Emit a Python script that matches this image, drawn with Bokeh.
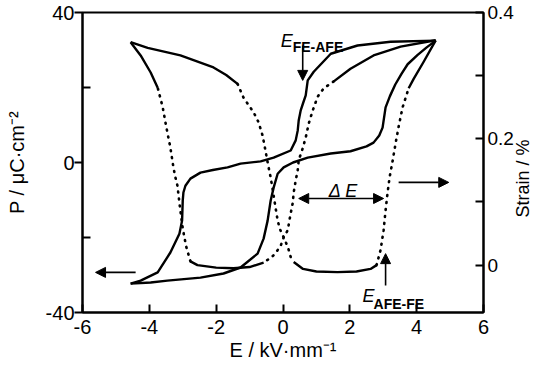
import math
from bokeh.plotting import figure
from bokeh.models import Range1d, LinearAxis, FixedTicker, Arrow, NormalHead, Label
from bokeh.embed import file_html
from bokeh.resources import INLINE

# ---------------- data ----------------
# Polarization loop, field increasing (left tip -> right tip)
P_rise_E = [-4.56, -3.96, -3.46, -2.47, -1.78, -1.27, -0.76, -0.58, -0.46, -0.37, -0.28, -0.16,
            0.02, 0.30, 0.74, 1.43, 2.02, 2.50, 2.71, 2.88, 2.98, 3.07, 3.20, 3.36, 3.55, 3.73,
            4.03, 4.30, 4.57]
P_rise_P = [-32.3, -32.0, -31.5, -30.7, -29.6, -28.0, -24.3, -20.3, -15.5, -10.2, -6.7, -3.0,
            -1.3, 0.0, 1.3, 2.4, 3.0, 4.3, 5.3, 7.2, 9.3, 14.7, 17.7, 20.8, 23.7, 26.2,
            28.7, 30.7, 32.5]
# Polarization loop, field decreasing (right tip -> left tip)
P_fall_E = [4.57, 3.22, 2.23, 1.43, 0.92, 0.74, 0.68, 0.60, 0.53, 0.47, 0.44, 0.38, 0.23,
            -0.28, -0.67, -1.27, -1.66, -2.10, -2.47, -2.77, -2.92, -2.98, -3.00, -3.02,
            -3.10, -3.37, -3.75, -4.26, -4.56]
P_fall_P = [32.5, 32.2, 31.2, 29.0, 24.2, 21.9, 17.9, 15.8, 13.9, 11.2, 8.5, 5.9, 3.2,
            1.3, 0.3, -0.3, -1.3, -2.0, -2.7, -4.3, -6.2, -8.0, -10.1, -15.5,
            -19.0, -24.0, -29.3, -31.5, -32.3]

# Strain butterfly, branch from left tip to right tip (solid / dotted parts)
S_a1_E = [-4.56, -4.05, -3.07, -2.08, -1.70, -1.36]
S_a1_S = [0.353, 0.344, 0.332, 0.313, 0.301, 0.287]
S_a2_E = [-1.36, -1.18, -0.88, -0.73, -0.61, -0.52, -0.45, -0.37, -0.31, -0.22, -0.16, -0.10,
          0.02, 0.15, 0.23, 0.32]
S_a2_S = [0.287, 0.265, 0.242, 0.226, 0.205, 0.180, 0.160, 0.139, 0.120, 0.090, 0.071, 0.058,
          0.044, 0.028, 0.013, 0.005]
S_a3_E = [0.32, 0.60, 1.00, 1.63, 2.20, 2.62, 2.80]
S_a3_S = [0.005, -0.006, -0.010, -0.011, -0.010, -0.006, 0.000]
S_a4_E = [2.80, 2.92, 3.01, 3.07, 3.13, 3.19, 3.28, 3.37, 3.47, 3.58, 3.76]
S_a4_S = [0.000, 0.024, 0.055, 0.087, 0.115, 0.139, 0.165, 0.193, 0.222, 0.250, 0.280]
S_a5_E = [3.76, 3.91, 4.21, 4.57]
S_a5_S = [0.280, 0.295, 0.322, 0.356]

# Strain butterfly, branch from right tip to left tip
S_b1_E = [4.57, 3.52, 2.71, 2.02, 1.52]
S_b1_S = [0.356, 0.346, 0.332, 0.311, 0.291]
S_b2_E = [1.52, 1.22, 1.04, 0.89, 0.77, 0.68, 0.59, 0.47, 0.44, 0.38, 0.32, 0.29, 0.23,
          0.14, 0.02, -0.06, -0.22, -0.37, -0.58]
S_b2_S = [0.291, 0.280, 0.267, 0.245, 0.224, 0.202, 0.185, 0.166, 0.150, 0.134, 0.115, 0.098,
          0.082, 0.055, 0.044, 0.032, 0.019, 0.011, 0.005]
S_b3_E = [-0.58, -1.00, -1.48, -2.00, -2.56, -2.77]
S_b3_S = [0.004, -0.003, -0.005, -0.004, 0.000, 0.006]
S_b4_E = [-2.77, -2.90, -3.00, -3.08, -3.16, -3.22, -3.28, -3.37, -3.49, -3.60, -3.75]
S_b4_S = [0.006, 0.030, 0.058, 0.090, 0.126, 0.139, 0.155, 0.186, 0.218, 0.250, 0.281]
S_b5_E = [-3.75, -3.96, -4.26, -4.56]
S_b5_S = [0.281, 0.305, 0.332, 0.353]

# axes / tick labels
x_ticks = [-6, -4, -2, 0, 2, 4, 6]
x_tick_labels = ["-6", "-4", "-2", "0", "2", "4", "6"]
p_ticks = [-40, 0, 40]
p_tick_labels = ["-40", "0", "40"]
p_minor = [-20, 20]
s_ticks = [0, 0.2, 0.4]
s_tick_labels = ["0", "0.2", "0.4"]
s_minor = [0.1, 0.3]
x_title = "E / kV·mm⁻¹"
p_title = "P / μC·cm⁻²"
s_title = "Strain / %"

# annotations (data coordinates: E, P)
fe_afe_arrow = (0.59, 31.2, 0.59, 21.9)
afe_fe_arrow = (3.07, -32.8, 3.07, -24.3)
dE_arrow = (0.47, -9.6, 3.01, -9.6)
right_arrow = (3.46, -5.3, 4.96, -5.3)
left_arrow = (-4.41, -29.3, -5.61, -29.3)

FONT = "Liberation Sans"

p = figure(width=540, height=370, frame_width=401, frame_height=300,
           x_range=Range1d(-6, 6), y_range=Range1d(-40, 40),
           output_backend="svg", toolbar_location=None, title=None,
           min_border_left=82, min_border_right=57, min_border_top=12, min_border_bottom=58)
p.extra_y_ranges = {"strain": Range1d(-0.075, 0.4)}
p.grid.visible = False
p.outline_line_color = "black"
p.outline_line_width = 2
p.background_fill_color = "white"
p.border_fill_color = "white"

xa = p.xaxis[0]
xa.ticker = FixedTicker(ticks=x_ticks)
xa.major_label_overrides = dict(zip(x_ticks, x_tick_labels))
xa.axis_label = x_title
ya = p.yaxis[0]
ya.ticker = FixedTicker(ticks=p_ticks, minor_ticks=p_minor)
ya.major_label_overrides = dict(zip(p_ticks, p_tick_labels))
ya.axis_label = p_title
ra = LinearAxis(y_range_name="strain", ticker=FixedTicker(ticks=s_ticks, minor_ticks=s_minor))
ra.major_label_overrides = dict(zip(s_ticks, s_tick_labels))
p.add_layout(ra, "right")

for ax in (xa, ya, ra):
    ax.axis_line_width = 2
    ax.major_tick_line_width = 2
    ax.minor_tick_line_width = 2
    ax.major_tick_in = 8
    ax.major_tick_out = 0
    ax.minor_tick_in = 8
    ax.minor_tick_out = 0
    ax.major_label_text_font = FONT
    ax.major_label_text_font_size = "20px"
    ax.major_label_text_color = "black"
    ax.axis_label_text_font = FONT
    ax.axis_label_text_font_size = "20px"
    ax.axis_label_text_font_style = "normal"
    ax.axis_label_text_color = "black"
xa.minor_tick_in = 0
xa.major_label_standoff = 7
xa.axis_label_standoff = 2
ya.major_tick_in = 0
ya.major_tick_out = 8
ya.major_label_standoff = 0
ya.axis_label_standoff = 15
ra.major_label_text_font_size = "19px"
ra.axis_label_text_font_size = "18px"
ra.major_label_standoff = 4
ra.axis_label_standoff = 6
# right title reads bottom-to-top and starts from the lower part of the axis
try:
    ra.axis_label_orientation = math.pi / 2
    ra.axis_label_align = "start"
    ra.axis_label = "\u00a0" * 19 + s_title
except Exception:
    ra.axis_label = s_title

# P loop
LW = 2.4
p.line(P_rise_E, P_rise_P, line_width=LW, line_color="black", line_join="round")
p.line(P_fall_E, P_fall_P, line_width=LW, line_color="black", line_join="round")

# strain
for xs, ys in [(S_a1_E, S_a1_S), (S_a3_E, S_a3_S), (S_a5_E, S_a5_S),
               (S_b1_E, S_b1_S), (S_b3_E, S_b3_S), (S_b5_E, S_b5_S)]:
    p.line(xs, ys, y_range_name="strain", line_width=LW, line_color="black", line_join="round")
for xs, ys in [(S_a2_E, S_a2_S), (S_a4_E, S_a4_S), (S_b2_E, S_b2_S), (S_b4_E, S_b4_S)]:
    p.line(xs, ys, y_range_name="strain", line_width=2.6, line_color="black",
           line_dash="1 6", line_cap="round")

def arrow(coords, both=False):
    x0, y0, x1, y1 = coords
    head = lambda: NormalHead(size=10, fill_color="black", line_color="black", line_width=1)
    a = Arrow(end=head(), start=head() if both else None,
              x_start=x0, y_start=y0, x_end=x1, y_end=y1,
              line_width=1.6, line_color="black")
    p.add_layout(a)

arrow(fe_afe_arrow)
arrow(afe_fe_arrow)
arrow(dE_arrow, both=True)
arrow(right_arrow)
arrow(left_arrow)

def label(x, y, text, size, style="normal"):
    p.add_layout(Label(x=x, y=y, text=text, text_font=FONT, text_font_size=size,
                       text_font_style=style, text_baseline="alphabetic", text_align="left",
                       text_color="black"))

label(-0.07, 32.5, "E", "18px", "italic")
label(0.29, 30.9, "FE-AFE", "14px", "bold")
label(2.38, -35.5, "E", "18px", "italic")
label(2.71, -37.6, "AFE-FE", "14px", "bold")
label(1.37, -7.5, "Δ E", "18px", "italic")

open("out.html", "w").write(file_html(p, INLINE))
